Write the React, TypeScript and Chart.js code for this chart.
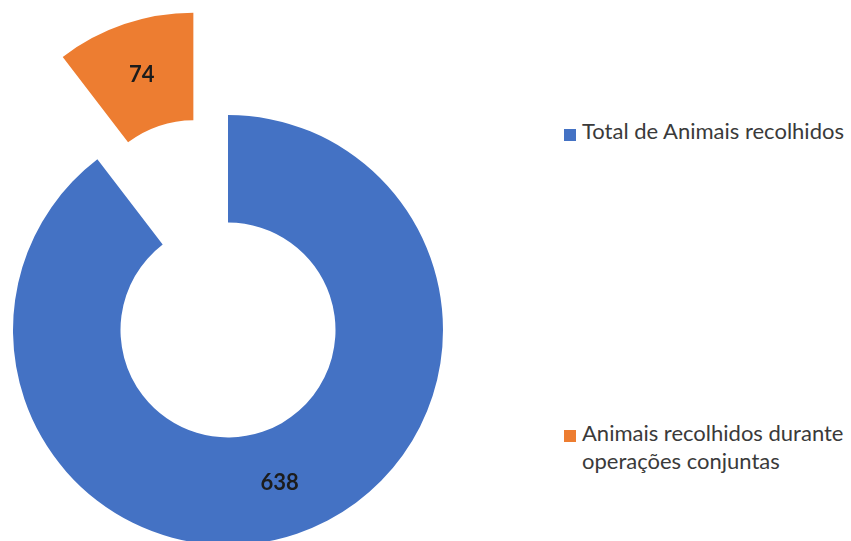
import React, { useEffect, useRef } from "react";
import { Chart, registerables } from "chart.js";

Chart.register(...registerables);

const categories = ["Total de Animais recolhidos", "Animais recolhidos durante operações conjuntas"];
const legendLines = [["Total de Animais recolhidos"], ["Animais recolhidos durante", "operações conjuntas"]];
const values = [638, 74];
const colors = ["#4472C4", "#ED7D31"];

const explodePlugin = {
  id: "explode",
  afterDatasetUpdate(chart: any, args: any, opts: any) {
    const meta = chart.getDatasetMeta(args.index);
    const d: number[] = (opts && opts.distances) || [];
    meta.data.forEach((arc: any, i: number) => {
      const e = d[i] || 0;
      if (!e) return;
      const mid = (arc.startAngle + arc.endAngle) / 2;
      arc.x += Math.cos(mid) * e;
      arc.y += Math.sin(mid) * e;
    });
  },
};

const valueLabelPlugin = {
  id: "valueLabels",
  afterDatasetsDraw(chart: any) {
    const ctx = chart.ctx;
    const meta = chart.getDatasetMeta(0);
    ctx.save();
    ctx.font = "bold 22px Lato";
    ctx.fillStyle = "#1c1c1c";
    ctx.textAlign = "center";
    ctx.textBaseline = "middle";
    meta.data.forEach((arc: any, i: number) => {
      const mid = (arc.startAngle + arc.endAngle) / 2;
      const r = (arc.innerRadius + arc.outerRadius) / 2;
      ctx.fillText(String(chart.data.datasets[0].data[i]), arc.x + Math.cos(mid) * r, arc.y + Math.sin(mid) * r);
    });
    ctx.restore();
  },
};

export default function App() {
  const ref = useRef<HTMLCanvasElement | null>(null);
  useEffect(() => {
    if (!ref.current) return;
    const chart = new Chart(ref.current, {
      type: "doughnut",
      data: {
        labels: categories,
        datasets: [
          {
            data: values,
            backgroundColor: colors,
            borderWidth: 0,
          },
        ],
      },
      options: {
        responsive: false,
        maintainAspectRatio: false,
        devicePixelRatio: 1,
        animation: false,
        radius: 215,
        cutout: "50%",
        layout: { padding: 0 },
        plugins: {
          legend: { display: false },
          tooltip: { enabled: false },
          explode: { distances: [0, 108] },
        } as any,
      },
      plugins: [explodePlugin, valueLabelPlugin],
    });
    return () => chart.destroy();
  }, []);

  const textStyle: React.CSSProperties = {
    position: "absolute",
    left: 582,
    fontFamily: "Lato, sans-serif",
    fontSize: 22,
    lineHeight: "28px",
    color: "#3a3a3a",
    whiteSpace: "nowrap",
  };

  return (
    <div
      style={{
        position: "fixed",
        left: 0,
        top: 0,
        width: 851,
        height: 541,
        overflow: "hidden",
        background: "#ffffff",
      }}
    >
      <canvas
        ref={ref}
        width={456}
        height={660}
        style={{ position: "absolute", left: 0, top: 0, width: 456, height: 660 }}
      />
      <div style={{ position: "absolute", left: 564, top: 129, width: 12, height: 12, background: colors[0] }} />
      <div style={{ ...textStyle, top: 117 }}>
        {legendLines[0].map((l, i) => (
          <div key={i}>{l}</div>
        ))}
      </div>
      <div style={{ position: "absolute", left: 564, top: 430, width: 12, height: 12, background: colors[1] }} />
      <div style={{ ...textStyle, top: 419 }}>
        {legendLines[1].map((l, i) => (
          <div key={i}>{l}</div>
        ))}
      </div>
    </div>
  );
}
